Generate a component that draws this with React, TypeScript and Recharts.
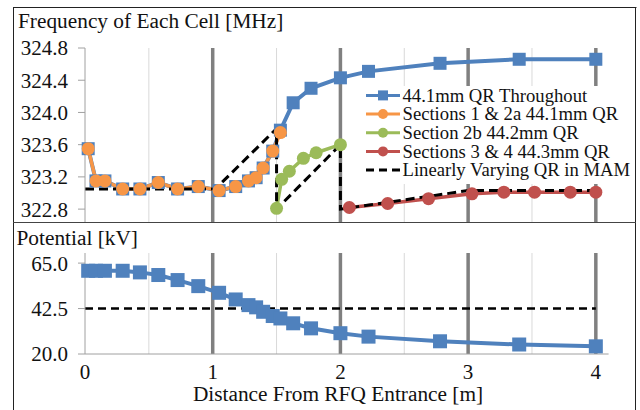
import React from 'react';
import { LineChart, Line, XAxis, YAxis, ReferenceLine, Legend } from 'recharts';

// ---- data ----
const cellPositions = [0.025, 0.086, 0.156, 0.295, 0.43, 0.574, 0.725, 0.887, 1.05, 1.18, 1.28, 1.34, 1.395, 1.47, 1.53, 1.63, 1.77, 2.0, 2.22, 2.78, 3.4, 4.0];
const freqThroughout = [323.55, 323.15, 323.15, 323.05, 323.05, 323.13, 323.05, 323.08, 323.03, 323.08, 323.15, 323.19, 323.31, 323.52, 323.78, 324.12, 324.3, 324.43, 324.51, 324.61, 324.66, 324.66];
const freqSections12a = [323.55, 323.15, 323.15, 323.05, 323.05, 323.13, 323.05, 323.08, 323.03, 323.08, 323.15, 323.19, 323.31, 323.52, 323.75];
const section2bPositions = [1.5, 1.54, 1.6, 1.71, 1.81, 2.0];
const freqSection2b = [322.81, 323.17, 323.27, 323.43, 323.5, 323.6];
const section34Positions = [2.07, 2.37, 2.69, 3.03, 3.28, 3.52, 3.8, 4.0];
const freqSections34 = [322.82, 322.87, 322.93, 322.99, 323.01, 323.01, 323.01, 323.01];
const mamPositions = [0, 1.02, 1.5, 1.5, 2.0, 2.0, 3.0, 4.0];
const freqMam = [323.05, 323.05, 323.8, 322.8, 323.6, 322.8, 323.03, 323.03];
const potentialKV = [61.2, 61.2, 61.2, 61.2, 60.4, 59.1, 56.6, 53.6, 50.3, 47.0, 44.2, 43.1, 40.9, 38.8, 37.6, 35.2, 32.7, 30.3, 28.6, 26.3, 24.7, 23.8];
const mamPotentialPositions = [0, 4];
const mamPotential = [42.5, 42.5];

const freqTicks = [322.8, 323.2, 323.6, 324.0, 324.4, 324.8];
const potentialTicks = [20, 42.5, 65];
const distanceTicks = [0, 1, 2, 3, 4];
const minorGrid = [0.5, 1.5, 2.5, 3.5];
const majorGrid = [1, 2, 3, 4];

const seriesNames = ['44.1mm QR Throughout', 'Sections 1 & 2a 44.1mm QR', 'Section 2b 44.2mm QR', 'Sections 3 & 4 44.3mm QR', 'Linearly Varying QR in MAM'];

// ---- tables built from arrays ----
const zip = (xs: number[], ys: number[]) => xs.map((x, i) => ({ x, y: ys[i] }));
const throughoutData = zip(cellPositions, freqThroughout);
const sec12aData = zip(cellPositions.slice(0, freqSections12a.length), freqSections12a);
const sec2bData = zip(section2bPositions, freqSection2b);
const sec34Data = zip(section34Positions, freqSections34);
const mamData = zip(mamPositions, freqMam);
const potentialData = zip(cellPositions, potentialKV);
const mamPotData = zip(mamPotentialPositions, mamPotential);

// ---- styles ----
const BLUE = '#4F81BD';
const ORANGE = '#F79646';
const GREEN = '#9BBB59';
const RED = '#C0504D';
const FONT = 'Liberation Serif';
const TXT = '#111';
const AXIS = '#a0a0a0';
const MINOR = '#d9d9d9';
const MAJOR = '#808080';

const square = (size: number, color: string) => (props: any) => {
  const { cx, cy, index } = props;
  if (cx == null || cy == null) return <g key={`n${index}`} />;
  return <rect key={`s${index}`} x={cx - size / 2} y={cy - size / 2} width={size} height={size} fill={color} />;
};

const fmt = (v: number) => v.toFixed(1);
const tickStyle = { fontFamily: FONT, fontSize: 21, fill: TXT, style: { fontFamily: FONT } };

const legendColors = [BLUE, ORANGE, GREEN, RED, '#000'];

const LegendBox = () => (
  <svg width={270} height={98} style={{ display: 'block' }}>
    <rect x={0} y={0} width={270} height={98} fill="#fff" />
    {seriesNames.map((name, i) => {
      const base = 15.7 + i * 18.67;
      const cy = base - 6.3;
      const c = legendColors[i];
      return (
        <g key={name}>
          {i === 4 ? (
            <line x1={2} x2={36} y1={cy} y2={cy} stroke={c} strokeWidth={3} strokeDasharray="8 5" />
          ) : (
            <line x1={2} x2={36} y1={cy} y2={cy} stroke={c} strokeWidth={3} />
          )}
          {i === 0 && <rect x={14} y={cy - 5} width={10} height={10} fill={c} />}
          {i > 0 && i < 4 && <circle cx={19} cy={cy} r={5} fill={c} />}
          <text x={38.5} y={base} style={{ fontFamily: FONT, fontSize: 18.67 }} fill={TXT}>{name}</text>
        </g>
      );
    })}
  </svg>
);

const titleStyle = { fontFamily: FONT, fontSize: 21.33 };

export default function App() {
  return (
    <div style={{ position: 'absolute', left: 0, top: 0, width: 640, height: 410, background: '#fff', overflow: 'hidden', fontFamily: FONT }}>
      <div style={{ position: 'absolute', left: 0, top: 0 }}>
        <LineChart width={640} height={222} margin={{ top: 48, right: 31.4, bottom: 0, left: 0 }}>
          <XAxis dataKey="x" type="number" domain={[0, 4.1]} hide allowDuplicatedCategory={false} />
          <YAxis type="number" domain={[322.64, 324.8]} ticks={freqTicks} tickFormatter={fmt} width={85}
            axisLine={{ stroke: AXIS }} tickLine={{ stroke: AXIS }} tickSize={7} tickMargin={10} tick={tickStyle} allowDataOverflow />
          {minorGrid.map((v) => <ReferenceLine key={`m${v}`} x={v} stroke={MINOR} strokeWidth={1} />)}
          {majorGrid.map((v) => <ReferenceLine key={`M${v}`} x={v} stroke={MAJOR} strokeWidth={3.5} />)}
          <Line data={throughoutData} dataKey="y" type="linear" stroke={BLUE} strokeWidth={4} dot={square(13, BLUE)} isAnimationActive={false} />
          <Line data={sec12aData} dataKey="y" type="linear" stroke={ORANGE} strokeWidth={3.5} dot={{ r: 6.5, fill: ORANGE, stroke: ORANGE, strokeWidth: 0 }} isAnimationActive={false} />
          <Line data={sec2bData} dataKey="y" type="linear" stroke={GREEN} strokeWidth={3.5} dot={{ r: 6.5, fill: GREEN, stroke: GREEN, strokeWidth: 0 }} isAnimationActive={false} />
          <Line data={sec34Data} dataKey="y" type="linear" stroke={RED} strokeWidth={3.5} dot={{ r: 6.5, fill: RED, stroke: RED, strokeWidth: 0 }} isAnimationActive={false} />
          <Line data={mamData} dataKey="y" type="linear" stroke="#000" strokeWidth={3} strokeDasharray="9 5" dot={false} isAnimationActive={false} />
          <Legend layout="vertical" align="center" verticalAlign="middle" content={() => <LegendBox />}
            wrapperStyle={{ position: 'absolute', left: 364, top: 86, width: 270, height: 98 }} />
        </LineChart>
      </div>
      <div style={{ position: 'absolute', left: 0, top: 222 }}>
        <LineChart width={640} height={188} margin={{ top: 31, right: 31.4, bottom: 0, left: 0 }}>
          <XAxis dataKey="x" type="number" domain={[0, 4.1]} ticks={distanceTicks} height={56}
            axisLine={{ stroke: AXIS }} tickLine={false} tickSize={4} tickMargin={6} tick={tickStyle} allowDuplicatedCategory={false} />
          <YAxis type="number" domain={[20, 70]} ticks={potentialTicks} tickFormatter={fmt} width={85}
            axisLine={{ stroke: AXIS }} tickLine={{ stroke: AXIS }} tickSize={7} tickMargin={10} tick={tickStyle} />
          {minorGrid.map((v) => <ReferenceLine key={`bm${v}`} x={v} stroke={MINOR} strokeWidth={1} />)}
          {majorGrid.map((v) => <ReferenceLine key={`bM${v}`} x={v} stroke={MAJOR} strokeWidth={3.5} />)}
          <Line data={potentialData} dataKey="y" type="linear" stroke={BLUE} strokeWidth={4} dot={square(14, BLUE)} isAnimationActive={false} />
          <Line data={mamPotData} dataKey="y" type="linear" stroke="#000" strokeWidth={2.5} strokeDasharray="8 5" dot={false} isAnimationActive={false} />
        </LineChart>
      </div>
      <svg width={640} height={410} style={{ position: 'absolute', left: 0, top: 0, pointerEvents: 'none' }}>
        <line x1={13} x2={636.5} y1={7.5} y2={7.5} stroke="#222" strokeWidth={1} />
        <line x1={13.5} x2={13.5} y1={7} y2={410} stroke="#222" strokeWidth={1} />
        <line x1={635.5} x2={635.5} y1={7} y2={410} stroke="#222" strokeWidth={1} />
        <line x1={13} x2={636} y1={222.5} y2={222.5} stroke="#444" strokeWidth={1} />
        <text x={18} y={28} style={titleStyle} fill={TXT}>Frequency of Each Cell [MHz]</text>
        <text x={16.5} y={245} style={titleStyle} fill={TXT}>Potential [kV]</text>
        <text x={338} y={401} textAnchor="middle" style={titleStyle} fill={TXT}>Distance From RFQ Entrance [m]</text>
      </svg>
    </div>
  );
}
